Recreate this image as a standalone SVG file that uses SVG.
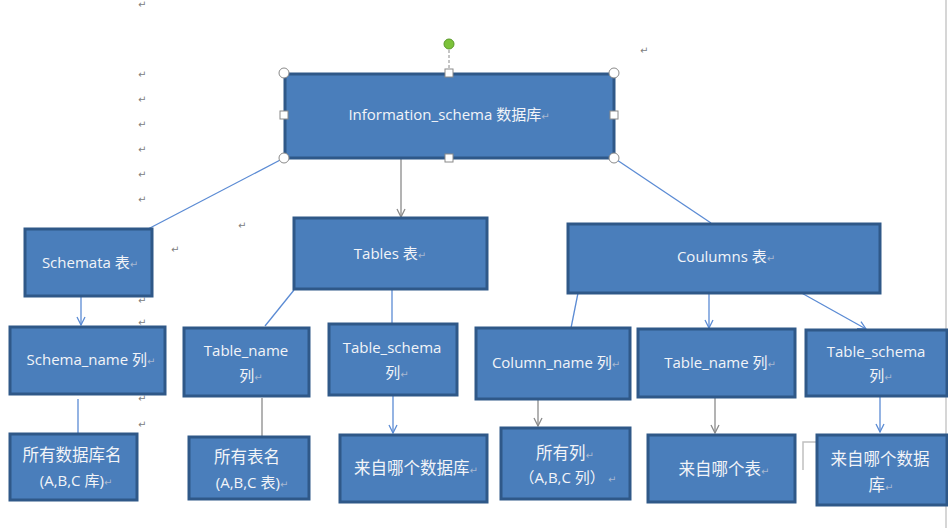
<svg xmlns="http://www.w3.org/2000/svg" width="948" height="528" viewBox="0 0 948 528">
<defs>
<style>
.node rect.b{fill:#4a7ebb;stroke:#2f5888;stroke-width:3}
.node text{font-family:"Open Sans","Noto Sans","Noto Sans CJK SC",sans-serif;font-size:15px;fill:#f2f4f8;text-anchor:middle}
.node text.c{font-size:16.5px}
.pm{font-family:"DejaVu Sans",sans-serif;font-size:10px;fill:#808080}
tspan.r{font-family:"DejaVu Sans",sans-serif;font-size:10px;fill:#a8b8d0}
.cb{stroke:#5b8bd4;stroke-width:1.3;fill:none}
.cg{stroke:#8a8a8a;stroke-width:1.3;fill:none}
.h{fill:#fff;stroke:#8a8a8a;stroke-width:1}
</style>
<marker id="ab" viewBox="0 0 10 10" refX="9" refY="5" markerWidth="10" markerHeight="10" markerUnits="userSpaceOnUse" orient="auto">
<path d="M1,1 L9,5 L1,9" fill="none" stroke="#5b8bd4" stroke-width="1.3"/>
</marker>
<marker id="ag" viewBox="0 0 10 10" refX="9" refY="5" markerWidth="10" markerHeight="10" markerUnits="userSpaceOnUse" orient="auto">
<path d="M1,1 L9,5 L1,9" fill="none" stroke="#8a8a8a" stroke-width="1.3"/>
</marker>
</defs>
<rect width="948" height="528" fill="#fff"/>
<line x1="946" y1="0" x2="946" y2="528" stroke="#c8c8c8" stroke-width="1.5"/>

<g id="marks">
<text class="pm" x="138" y="8">↵</text>
<text class="pm" x="138" y="78">↵</text>
<text class="pm" x="138" y="103">↵</text>
<text class="pm" x="138" y="128">↵</text>
<text class="pm" x="138" y="153">↵</text>
<text class="pm" x="138" y="178">↵</text>
<text class="pm" x="138" y="203">↵</text>
<text class="pm" x="238" y="229">↵</text>
<text class="pm" x="171" y="253">↵</text>
<text class="pm" x="138" y="304">↵</text>
<text class="pm" x="138" y="326">↵</text>
<text class="pm" x="138" y="402">↵</text>
<text class="pm" x="138" y="428">↵</text>
<text class="pm" x="640" y="54">↵</text>
</g>
<polyline points="818,442 803,442 803,470" fill="none" stroke="#c0c0c0" stroke-width="1.5"/>

<g id="connectors">
<line class="cb" x1="284" y1="158" x2="148" y2="229"/>
<line class="cg" x1="401" y1="158" x2="401" y2="217" marker-end="url(#ag)"/>
<line class="cb" x1="614" y1="158" x2="711" y2="223"/>
<line class="cb" x1="81" y1="296" x2="81" y2="325" marker-end="url(#ab)"/>
<line class="cb" x1="294" y1="290" x2="265" y2="326"/>
<line class="cb" x1="392" y1="289" x2="392" y2="323"/>
<line class="cb" x1="578" y1="293" x2="571" y2="328"/>
<line class="cb" x1="709" y1="293" x2="709" y2="328" marker-end="url(#ab)"/>
<line class="cb" x1="798" y1="291" x2="866" y2="329" marker-end="url(#ab)"/>
<line class="cb" x1="78" y1="399" x2="78" y2="433"/>
<line class="cg" x1="262" y1="398" x2="262" y2="437"/>
<line class="cb" x1="393" y1="395" x2="393" y2="433" marker-end="url(#ab)"/>
<line class="cg" x1="538" y1="399" x2="538" y2="426" marker-end="url(#ag)"/>
<line class="cg" x1="715" y1="397" x2="715" y2="433" marker-end="url(#ag)"/>
<line class="cb" x1="880" y1="396" x2="880" y2="432" marker-end="url(#ab)"/>
</g>

<g id="n-info" class="node">
<rect class="b" x="285" y="74" width="329" height="84"/>
<text x="449" y="120">Information_schema 数据库<tspan class="r">↵</tspan></text>
<line x1="449" y1="50" x2="449" y2="70" stroke="#8a8a8a" stroke-width="1" stroke-dasharray="3,2"/>
<circle cx="449" cy="44" r="5" fill="#7cc23a" stroke="#5a9a2a" stroke-width="1"/>
<circle class="h" cx="284" cy="73" r="5"/>
<circle class="h" cx="614" cy="73" r="5"/>
<circle class="h" cx="284" cy="158" r="5"/>
<circle class="h" cx="614" cy="158" r="5"/>
<rect class="h" x="445" y="69" width="8" height="8"/>
<rect class="h" x="445" y="154" width="8" height="8"/>
<rect class="h" x="280" y="111" width="8" height="8"/>
<rect class="h" x="610" y="111" width="8" height="8"/>
</g>

<g id="n-schemata" class="node">
<rect class="b" x="25" y="229" width="127" height="67"/>
<text x="90" y="268">Schemata 表<tspan class="r">↵</tspan></text>
</g>
<g id="n-tables" class="node">
<rect class="b" x="294" y="218" width="193" height="71"/>
<text x="390" y="259">Tables 表<tspan class="r">↵</tspan></text>
</g>
<g id="n-columns" class="node">
<rect class="b" x="568" y="224" width="312" height="69"/>
<text x="726" y="262">Coulumns 表<tspan class="r">↵</tspan></text>
</g>

<g id="n-schema-name" class="node">
<rect class="b" x="10" y="327" width="155" height="67"/>
<text x="91" y="365">Schema_name 列<tspan class="r">↵</tspan></text>
</g>
<g id="n-table-name-1" class="node">
<rect class="b" x="184" y="328" width="125" height="68"/>
<text x="246" y="356">Table_name</text>
<text x="251" y="381">列<tspan class="r">↵</tspan></text>
</g>
<g id="n-table-schema-1" class="node">
<rect class="b" x="329" y="324" width="128" height="71"/>
<text x="392" y="353">Table_schema</text>
<text x="397" y="378">列<tspan class="r">↵</tspan></text>
</g>
<g id="n-column-name" class="node">
<rect class="b" x="476" y="328" width="154" height="71"/>
<text x="556" y="368">Column_name 列<tspan class="r">↵</tspan></text>
</g>
<g id="n-table-name-2" class="node">
<rect class="b" x="638" y="329" width="157" height="68"/>
<text x="720" y="368">Table_name 列<tspan class="r">↵</tspan></text>
</g>
<g id="n-table-schema-2" class="node">
<rect class="b" x="806" y="330" width="141" height="66"/>
<text x="876" y="357">Table_schema</text>
<text x="881" y="381">列<tspan class="r">↵</tspan></text>
</g>

<g id="n-all-db" class="node">
<rect class="b" x="10" y="434" width="127" height="66"/>
<text class="c" x="72" y="461">所有数据库名</text>
<text x="76" y="486">(A,B,C 库)<tspan class="r">↵</tspan></text>
</g>
<g id="n-all-tables" class="node">
<rect class="b" x="189" y="437" width="120" height="62"/>
<text class="c" x="247" y="463">所有表名</text>
<text x="252" y="488">(A,B,C 表)<tspan class="r">↵</tspan></text>
</g>
<g id="n-from-db-1" class="node">
<rect class="b" x="340" y="435" width="147" height="67"/>
<text class="c" x="416" y="474">来自哪个数据库<tspan class="r">↵</tspan></text>
</g>
<g id="n-all-cols" class="node">
<rect class="b" x="501" y="428" width="129" height="71"/>
<text class="c" x="565" y="459">所有列<tspan class="r">↵</tspan></text>
<text x="568" y="483">（A,B,C 列）<tspan class="r"> ↵</tspan></text>
</g>
<g id="n-from-table" class="node">
<rect class="b" x="648" y="435" width="147" height="67"/>
<text class="c" x="724" y="475">来自哪个表<tspan class="r">↵</tspan></text>
</g>
<g id="n-from-db-2" class="node">
<rect class="b" x="817" y="435" width="130" height="70"/>
<text class="c" x="880" y="465">来自哪个数据</text>
<text class="c" x="881" y="491">库<tspan class="r">↵</tspan></text>
</g>
</svg>
